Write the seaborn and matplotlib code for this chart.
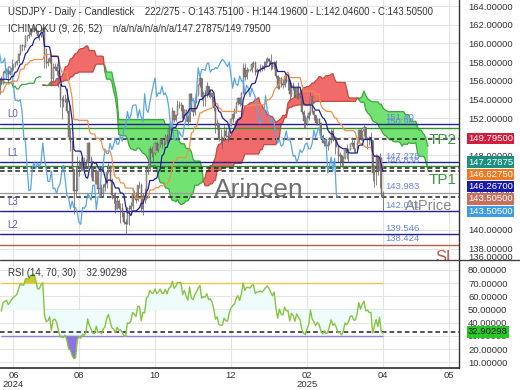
import numpy as np
import pandas as pd
import matplotlib
matplotlib.use('Agg')
import matplotlib.pyplot as plt
from matplotlib.lines import Line2D
from matplotlib.ticker import FormatStrFormatter
import seaborn as sns

# USDJPY daily bars, one line per week (Mon..Fri), first bar 2024-03-25
close = [
    151.4, 151.5, 151.3, 151.3, 151.3,
    151.6, 151.6, 151.6, 151.3, 151.6,
    151.8, 151.8, 153.2, 153.3, 153.3,
    154.2, 154.7, 154.4, 154.6, 154.6,
    154.8, 154.8, 155.3, 155.6, 158.3,
    156.3, 157.8, 155.0, 153.0, 152.9,
    153.9, 154.7, 155.6, 155.5, 155.8,
    156.2, 156.4, 154.9, 155.4, 155.6,
    156.3, 156.2, 156.8, 157.0, 157.0,
    156.9, 157.1, 157.6, 156.8, 157.3,
    156.1, 154.8, 156.1, 155.6, 156.8,
    157.0, 157.2, 156.7, 157.0, 157.4,
    157.7, 157.9, 158.1, 158.9, 159.8,
    159.7, 159.7, 160.8, 160.8, 160.9,
    161.5, 161.5, 161.7, 161.3, 160.8,
    160.8, 161.3, 161.6, 158.9, 157.9,
    158.0, 158.4, 156.2, 157.4, 157.5,
    157.0, 155.6, 153.9, 153.9, 153.8,
    154.0, 152.7, 150.0, 149.4, 146.5,
    144.2, 144.3, 146.7, 147.2, 146.6,
    147.2, 146.8, 147.2, 149.3, 147.6,
    146.6, 145.2, 145.2, 146.3, 144.4,
    144.5, 143.9, 144.6, 144.9, 146.2,
    146.9, 145.4, 143.7, 143.4, 142.3,
    143.1, 142.4, 142.4, 141.8, 140.8,
    140.6, 142.4, 142.3, 142.6, 143.9,
    143.6, 143.2, 144.8, 144.8, 142.2,
    143.6, 143.5, 146.5, 147.0, 148.7,
    148.2, 148.2, 149.3, 148.6, 149.1,
    149.8, 149.2, 149.2, 150.1, 149.5,
    150.8, 151.1, 152.7, 151.8, 152.3,
    153.3, 153.4, 153.4, 152.0, 152.9,
    152.1, 151.6, 154.6, 152.9, 152.6,
    153.7, 154.6, 155.5, 156.3, 154.3,
    154.7, 154.6, 155.4, 154.5, 154.7,
    154.2, 153.1, 151.1, 151.5, 149.7,
    149.6, 149.6, 150.6, 150.1, 150.0,
    151.2, 151.9, 152.4, 152.6, 153.6,
    154.1, 153.5, 154.7, 157.4, 156.4,
    157.2, 157.2, 157.1, 157.8, 157.9,
    156.9, 157.2, 157.2, 157.4, 157.3,
    157.6, 158.0, 158.3, 158.1, 157.8,
    157.5, 158.0, 156.5, 155.2, 156.3,
    155.6, 155.5, 156.5, 156.0, 156.0,
    154.6, 155.5, 155.2, 154.3, 155.2,
    154.7, 154.3, 152.6, 151.7, 151.4,
    152.0, 152.5, 154.4, 152.8, 152.3,
    151.5, 151.9, 151.5, 150.1, 149.3,
    149.7, 149.0, 149.1, 149.8, 150.6,
    149.6, 149.8, 149.0, 147.9, 148.0,
    147.3, 147.7, 148.6, 148.3, 148.6,
    149.2, 149.3, 148.7, 148.7, 149.3,
    150.7, 149.9, 150.6, 151.0, 149.8,
    149.9, 149.6, 149.6, 146.1, 146.9,
    147.8, 146.3, 147.7, 143.8, 143.5,
]
high = [
    151.5, 151.6, 151.9, 151.4, 151.4,
    151.8, 151.8, 151.8, 151.7, 151.8,
    151.9, 152.0, 153.2, 153.4, 153.4,
    154.4, 154.8, 154.8, 154.7, 154.7,
    154.9, 154.9, 155.4, 155.7, 158.4,
    160.2, 157.9, 158.0, 155.1, 153.5,
    154.0, 154.8, 155.7, 155.7, 155.9,
    156.3, 156.7, 156.5, 155.5, 155.8,
    156.4, 156.4, 156.9, 157.2, 157.2,
    157.1, 157.3, 157.7, 157.7, 157.4,
    157.3, 156.4, 156.3, 156.5, 157.0,
    157.2, 157.4, 157.6, 157.2, 158.3,
    157.8, 158.0, 158.2, 159.0, 159.8,
    159.9, 159.8, 160.9, 160.9, 161.3,
    161.7, 161.7, 161.95, 161.8, 161.4,
    161.0, 161.4, 161.7, 161.8, 159.5,
    158.4, 158.9, 158.9, 157.9, 157.9,
    157.9, 157.2, 155.6, 154.3, 154.5,
    154.6, 155.2, 153.9, 150.9, 149.6,
    146.5, 146.6, 147.9, 147.5, 147.8,
    147.8, 147.8, 147.6, 149.4, 149.4,
    147.9, 146.7, 146.3, 146.5, 146.4,
    144.8, 144.9, 144.9, 145.6, 146.2,
    147.2, 147.0, 145.6, 144.0, 144.1,
    143.5, 143.3, 142.9, 142.9, 141.9,
    141.2, 142.5, 142.7, 143.0, 144.5,
    144.3, 144.1, 144.8, 145.2, 145.0,
    144.0, 144.5, 146.6, 147.2, 149.0,
    149.0, 148.3, 149.4, 149.5, 149.3,
    149.9, 149.9, 149.6, 150.3, 150.3,
    150.9, 151.1, 153.2, 152.8, 152.4,
    153.9, 153.8, 153.7, 153.4, 153.0,
    152.4, 152.3, 154.7, 154.7, 153.1,
    153.8, 154.7, 155.6, 156.7, 156.3,
    154.9, 155.0, 155.9, 155.4, 155.0,
    154.7, 154.4, 153.2, 151.9, 151.5,
    150.8, 150.1, 151.2, 151.0, 150.6,
    151.3, 152.0, 152.5, 153.1, 153.7,
    154.3, 154.2, 154.8, 157.9, 157.9,
    157.5, 157.3, 157.3, 158.0, 158.1,
    158.1, 157.4, 157.3, 157.8, 157.7,
    158.1, 158.4, 158.5, 158.4, 158.87,
    158.0, 158.1, 158.2, 156.6, 156.4,
    156.4, 156.2, 156.7, 156.6, 156.8,
    156.2, 155.9, 155.9, 155.3, 155.3,
    155.9, 155.3, 154.4, 152.9, 152.3,
    152.3, 152.7, 154.8, 154.4, 152.9,
    152.0, 152.0, 152.0, 151.6, 150.3,
    149.8, 149.7, 149.5, 150.0, 150.8,
    150.9, 150.1, 150.0, 149.1, 148.4,
    147.9, 147.9, 148.7, 149.2, 148.8,
    149.2, 150.0, 149.6, 148.8, 149.6,
    150.8, 150.9, 150.6, 151.21, 151.0,
    150.0, 150.1, 150.49, 149.3, 147.0,
    148.1, 147.8, 148.3, 147.8, 144.2,
]
low = [
    151.0, 151.2, 151.0, 151.1, 151.1,
    151.3, 151.4, 151.3, 150.8, 150.9,
    151.6, 151.6, 151.7, 152.8, 152.6,
    153.3, 154.2, 154.2, 154.3, 153.6,
    154.5, 154.6, 154.7, 155.1, 155.5,
    154.5, 156.3, 153.0, 152.9, 151.9,
    152.9, 153.7, 154.6, 155.3, 155.3,
    155.7, 156.0, 154.7, 153.6, 155.2,
    155.6, 155.9, 156.2, 156.6, 156.7,
    156.6, 156.7, 157.1, 156.4, 156.7,
    155.8, 154.6, 154.6, 155.5, 155.6,
    156.8, 156.9, 155.7, 156.6, 156.9,
    157.2, 157.5, 157.7, 157.9, 158.8,
    159.2, 159.3, 159.6, 160.3, 160.6,
    160.8, 161.2, 161.2, 161.1, 160.6,
    160.4, 160.7, 161.2, 157.4, 157.4,
    157.6, 157.9, 155.4, 155.7, 157.1,
    156.6, 155.3, 153.2, 151.9, 153.2,
    153.7, 152.5, 149.9, 148.5, 146.4,
    141.7, 143.6, 144.2, 145.8, 146.3,
    146.3, 146.5, 146.5, 146.9, 147.3,
    145.7, 145.2, 144.9, 144.9, 144.0,
    143.5, 143.5, 143.6, 144.2, 144.5,
    146.1, 145.3, 143.3, 142.9, 141.8,
    142.4, 142.2, 140.7, 141.4, 140.6,
    139.58, 140.6, 140.5, 141.7, 142.3,
    143.4, 142.9, 143.1, 144.5, 141.9,
    141.6, 142.9, 143.2, 146.0, 146.3,
    147.8, 147.4, 148.0, 148.5, 148.4,
    148.9, 148.8, 149.0, 149.2, 149.3,
    149.4, 150.6, 151.0, 151.6, 151.7,
    152.6, 153.1, 152.8, 151.8, 151.9,
    151.7, 151.3, 151.6, 152.7, 152.2,
    152.3, 153.6, 154.4, 155.3, 153.9,
    153.3, 153.3, 154.2, 154.3, 154.1,
    153.5, 152.8, 150.4, 150.8, 149.5,
    149.3, 148.7, 149.5, 150.0, 149.4,
    149.9, 151.1, 151.6, 152.0, 152.5,
    153.4, 153.3, 153.4, 154.6, 156.1,
    156.2, 156.9, 157.0, 156.9, 157.5,
    156.6, 156.8, 157.0, 156.9, 157.0,
    157.2, 157.5, 157.9, 157.7, 157.2,
    157.3, 157.3, 156.3, 155.1, 155.1,
    155.3, 155.2, 155.3, 155.8, 155.0,
    153.8, 154.3, 155.0, 154.2, 154.0,
    154.0, 154.1, 152.4, 150.9, 150.9,
    151.2, 151.8, 152.3, 152.5, 151.8,
    151.3, 151.3, 151.3, 150.0, 149.3,
    149.0, 148.7, 148.6, 149.1, 149.3,
    149.5, 148.1, 148.9, 147.3, 146.9,
    146.7, 146.5, 147.6, 147.6, 147.3,
    148.7, 149.0, 148.4, 148.2, 148.6,
    149.6, 149.6, 149.5, 150.1, 149.6,
    148.7, 149.1, 148.7, 145.2, 144.6,
    144.8, 145.9, 144.5, 143.5, 142.05,
]
shown = 222  # bars on screen, the earlier ones only feed the indicators

tick_bars = [7, 45, 89, 133, 177, 221, 259]
tick_labels = ['06\n2024', '08', '10', '12', '02\n2025', '04', '05']

# horizontal levels
levels_navy = [151.40, 147.278, 142.041, 139.546]
level_names = ['L0', 'L1', 'L3', 'L2']
levels_green = [150.98, 146.838]
levels_dash = [149.795, 146.6275, 146.267, 143.505]
level_gray = 143.983
level_sl = 138.424
level_text = ['151.40', '150.98', '147.278', '146.838', '143.983', '142.041', '139.546', '138.424']

# value boxes on the price scale
box_values = [149.795, 147.27875, 146.6275, 146.267, 143.505, 143.505]
box_colors = ['#d41c3c', '#1a9080', '#f07a22', '#1a1aa8', '#c8705e', '#3c9ce6']
rsi_last = 32.90298

head1 = 'USDJPY - Daily - Candlestick    222/275 - O:143.75100 - H:144.19600 - L:142.04600 - C:143.50500'
head2 = 'ICHIMOKU (9, 26, 52)    n/a/n/a/n/a/n/a/147.27875/149.79500'
head3 = 'RSI (14, 70, 30)    32.90298'

sns.set_theme(style='white')
plt.rcParams['font.family'] = ['Liberation Sans', 'DejaVu Sans']

df = pd.DataFrame({'high': high, 'low': low, 'close': close})
df['open'] = df['close'].shift(1).fillna(df['close'].iloc[0])  # fx: open = previous close
df['high'] = df[['high', 'open', 'close']].max(axis=1)
df['low'] = df[['low', 'open', 'close']].min(axis=1)
pre = len(df) - shown
df['x'] = np.arange(len(df)) - pre

# ichimoku
tenkan = (df.high.rolling(9).max() + df.low.rolling(9).min()) / 2
kijun = (df.high.rolling(26).max() + df.low.rolling(26).min()) / 2
span_a = ((tenkan + kijun) / 2).values
span_b = ((df.high.rolling(52).max() + df.low.rolling(52).min()) / 2).values
xs = df.x.values + 26

# rsi 14 (wilder)
d = df.close.diff()
g = d.clip(lower=0).ewm(alpha=1 / 14, adjust=False).mean()
l = (-d.clip(upper=0)).ewm(alpha=1 / 14, adjust=False).mean()
df['rsi'] = 100 - 100 / (1 + g / l)

fig = plt.figure(figsize=(5.2, 3.9), dpi=100)
ax = fig.add_axes([0, 1 - 260 / 390, 459 / 520, 260 / 390])
ax2 = fig.add_axes([0, 1 - 368 / 390, 459 / 520, 107 / 390])

# cloud
ok = ~np.isnan(span_a) & ~np.isnan(span_b)
red = ok & (span_a >= span_b)
grn = ok & (span_b > span_a)
ax.fill_between(xs, span_a, span_b, where=red, interpolate=True, color='#f26b6b', lw=0, zorder=1)
ax.fill_between(xs, span_a, span_b, where=grn, interpolate=True, color='#72e272', lw=0, zorder=1)
red_l = red | np.roll(red, 1)
grn_l = grn | np.roll(grn, 1) | (~np.isnan(span_a) & np.isnan(span_b))
for s in (span_a, span_b):
    ax.plot(xs, np.where(red_l, s, np.nan), color='#c24a40', lw=0.9, zorder=2)
    ax.plot(xs, np.where(grn_l, s, np.nan), color='#3aa83a', lw=0.9, zorder=2)

# levels
for v in levels_navy:
    ax.axhline(v, color='#23238e', lw=1.0, zorder=2)
for v in levels_green:
    ax.axhline(v, color='#2f8f2f', lw=1.0, zorder=2)
for v in levels_dash:
    ax.axhline(v, color='#222222', lw=1.1, ls=(0, (3, 2)), zorder=2)
ax.axhline(level_gray, color='#9a9a9a', lw=0.9, zorder=2)
ax.axhline(level_sl, color='#b06048', lw=1.0, zorder=2)

# candles
up = df.close >= df.open
ax.vlines(df.x, df.low, df.high, color='#666666', lw=0.55, zorder=3)
ax.bar(df.x[up], (df.close - df.open)[up], bottom=df.open[up], width=0.6,
       color='#b4b4b4', edgecolor='#555555', lw=0.3, zorder=4)
ax.bar(df.x[~up], (df.close - df.open)[~up], bottom=df.open[~up], width=0.6,
       color='#b07a6e', edgecolor='#555555', lw=0.3, zorder=4)

# ichimoku lines
sns.lineplot(x=df.x - 26, y=df.close, ax=ax, color='#5aa6e0', lw=0.9, estimator=None, errorbar=None, zorder=5)
sns.lineplot(x=df.x, y=kijun, ax=ax, color='#f2904a', lw=0.9, estimator=None, errorbar=None, zorder=5)
sns.lineplot(x=df.x, y=tenkan, ax=ax, color='#20209a', lw=0.9, estimator=None, errorbar=None, zorder=6)

# level labels
last_x = df.x.iloc[-1]
for t in level_text:
    ax.annotate(t, xy=(last_x + 1.5, float(t)), xytext=(0, 1), textcoords='offset points',
                ha='left', va='bottom', fontsize=6.8, color='#6a86dc', zorder=7)
for name, v in zip(level_names, levels_navy):
    ax.annotate(name, xy=(0.015, v), xycoords=ax.get_yaxis_transform(), xytext=(0, 3),
                textcoords='offset points', va='bottom', fontsize=7, color='#5a5fc0')
ax.text(263.8, 149.65, 'TP2', ha='right', va='center', fontsize=11, color='#3a9a3a', zorder=7)
ax.text(263.8, 145.36, 'TP1', ha='right', va='center', fontsize=11, color='#3a9a3a', zorder=7)
ax.text(261, 142.57, 'AtPrice', ha='right', va='center', fontsize=10.5, color='#8a8a8a', zorder=7)
ax.text(251, 137.1, 'SL', ha='left', va='center', fontsize=12, color='#b85a50', zorder=7, clip_on=True)
ax.text(0.564, 0.269, 'Arincen', transform=ax.transAxes, ha='center', va='center',
        fontsize=19, color='#707070', zorder=7)

# value boxes
yb = []
for v in box_values:
    yb.append(v if not yb else min(v, yb[-1] - 1.32))
for v, y, c in zip(box_values, yb, box_colors):
    ax.text(1.0196, y, f'{v:.5f}', transform=ax.get_yaxis_transform(), ha='left', va='center',
            fontsize=6.8, color='white', clip_on=False, zorder=10,
            bbox=dict(boxstyle='square,pad=0.12', fc=c, ec='none'))
ax.text(1.0196, 137.0, '136.00000', transform=ax.get_yaxis_transform(), ha='left', va='center',
        fontsize=6.8, color='#333333', clip_on=False)

# rsi panel
vis = df[df.x >= 0]
ax2.fill_between(vis.x, vis.rsi, 50, color='#effcfc', lw=0, zorder=1)
ax2.fill_between(vis.x, vis.rsi, 70, where=vis.rsi > 70, interpolate=True, color='#c6cc2e', lw=0, zorder=2)
ax2.fill_between(vis.x, vis.rsi, 30, where=vis.rsi < 30, interpolate=True, color='#8c72e6', lw=0, zorder=2)
ax2.hlines(70, 0, last_x, color='#ecc84a', lw=1.0, zorder=2)
ax2.hlines(30, 0, last_x, color='#8a84e0', lw=1.0, zorder=2)
ax2.axhline(rsi_last, color='#222222', lw=1.1, ls=(0, (3, 2)), zorder=2)
sns.lineplot(x=vis.x, y=vis.rsi, ax=ax2, color='#86c440', lw=1.0, estimator=None, errorbar=None, zorder=3)
ax2.text(1.0196, rsi_last, f'{rsi_last:.5f}', transform=ax2.get_yaxis_transform(), ha='left', va='center',
         fontsize=6.8, color='#1a1a1a', clip_on=False, zorder=10,
         bbox=dict(boxstyle='square,pad=0.12', fc='#28c828', ec='none'))

for a in (ax, ax2):
    a.set_xlim(-0.75, 265)
    a.set_xlabel('')
    a.set_ylabel('')
    a.yaxis.tick_right()
    a.tick_params(axis='y', length=0, pad=6.5, labelsize=6.8, colors='#333333')
    a.tick_params(axis='x', length=0)
    a.set_xticks(tick_bars)
    a.grid(True, color='#e4e4e4', lw=0.8)
    a.set_axisbelow(True)
    a.spines['left'].set_visible(False)
    a.spines['top'].set_visible(False)
    a.spines['right'].set_color('#333333')
    a.spines['right'].set_linewidth(1.0)
    a.yaxis.set_major_formatter(FormatStrFormatter('%.5f'))
ax.spines['bottom'].set_visible(False)
ax.set_ylim(136.78, 164.65)
ax.set_yticks(np.arange(138, 165, 2))
ax.tick_params(axis='x', labelbottom=False)
ax2.set_ylim(5.6, 86.7)
ax2.set_yticks(np.arange(10, 81, 10))
ax2.set_xticklabels(tick_labels)
ax2.tick_params(axis='x', pad=2, labelsize=6.8, colors='#333333')
ax2.spines['bottom'].set_color('#333333')
for lab in ax2.get_xticklabels():
    lab.set_linespacing(1.0)

fig.add_artist(Line2D([0, 1], [1 - 260 / 390] * 2, transform=fig.transFigure, color='#444444', lw=1.0))
fig.text(8 / 520, 1 - 12 / 390, head1, fontsize=6.9, color='#333333', va='center')
fig.text(8 / 520, 1 - 29 / 390, head2, fontsize=6.9, color='#333333', va='center')
fig.text(8 / 520, 1 - 273 / 390, head3, fontsize=6.9, color='#333333', va='center')

fig.savefig('out.png', dpi=100)
